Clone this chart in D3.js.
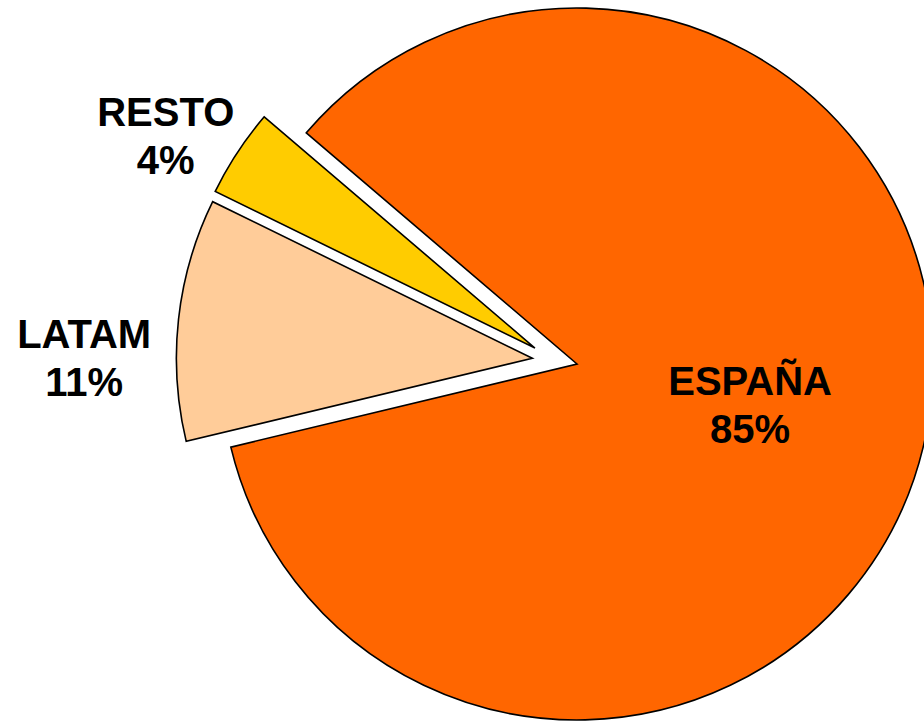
<!DOCTYPE html>
<html>
<head>
<meta charset="utf-8">
<script src="https://cdn.jsdelivr.net/npm/d3@7"></script>
<style>
  body { margin: 0; background: #fff; }
  text { font-family: "Liberation Sans", Arial, sans-serif; font-weight: bold; }
</style>
</head>
<body>
<svg id="chart" width="924" height="723"></svg>
<script>
// Data
var categories = ["ESPAÑA", "LATAM", "RESTO"];
var values = [85, 11, 4];
var colors = ["#FF6600", "#FFCC99", "#FFCC00"];
var exploded = [false, true, true];

var svg = d3.select("#chart"),
    width = +svg.attr("width"),
    height = +svg.attr("height");

var cx = 577, cy = 364, radius = 356, explode = 45;
var deg = Math.PI / 180;

// layout tweaks per slice: label radius factor, label angle tweak, explode angle tweak (degrees)
var layout = {
  "ESPAÑA": { r: 0.5, da: 0, ea: 0 },
  "LATAM": { r: 1.259, da: -6.4, ea: 1 },
  "RESTO": { r: 1.195, da: -3.5, ea: -12.5 }
};

var pie = d3.pie()
  .sort(null)
  .value(function(d) { return d.value; })
  .startAngle(-49.5 * deg)
  .endAngle(-49.5 * deg + 2 * Math.PI);

var arc = d3.arc().innerRadius(0).outerRadius(radius);

var data = categories.map(function(c, i) {
  return { name: c, value: values[i], color: colors[i], exploded: exploded[i] };
});

var slices = pie(data);

function offset(d) {
  if (!d.data.exploded) return [0, 0];
  var a = (d.startAngle + d.endAngle) / 2 + layout[d.data.name].ea * deg;
  return [Math.sin(a) * explode, -Math.cos(a) * explode];
}

var g = svg.append("g").attr("transform", "translate(" + cx + "," + cy + ")");

g.selectAll("path")
  .data(slices)
  .enter()
  .append("path")
    .attr("d", arc)
    .attr("transform", function(d) { var o = offset(d); return "translate(" + o[0] + "," + o[1] + ")"; })
    .attr("fill", function(d) { return d.data.color; })
    .attr("stroke", "#000")
    .attr("stroke-width", 1.6)
    .attr("stroke-linejoin", "miter");

// labels
var fmt = function(v) { return v + "%"; };

var labels = g.selectAll("g.label")
  .data(slices)
  .enter()
  .append("g")
    .attr("class", "label")
    .attr("transform", function(d) {
      var o = offset(d);
      var lay = layout[d.data.name];
      var a = (d.startAngle + d.endAngle) / 2 + lay.da * deg;
      var r = lay.r * radius;
      return "translate(" + (o[0] + Math.sin(a) * r) + "," + (o[1] - Math.cos(a) * r) + ")";
    });

labels.append("text")
  .attr("text-anchor", "middle")
  .attr("y", -11)
  .attr("font-size", 40)
  .attr("fill", "#000")
  .text(function(d) { return d.data.name; });

labels.append("text")
  .attr("text-anchor", "middle")
  .attr("y", 37)
  .attr("font-size", 40)
  .attr("fill", "#000")
  .text(function(d) { return fmt(d.data.value); });
</script>
</body>
</html>
